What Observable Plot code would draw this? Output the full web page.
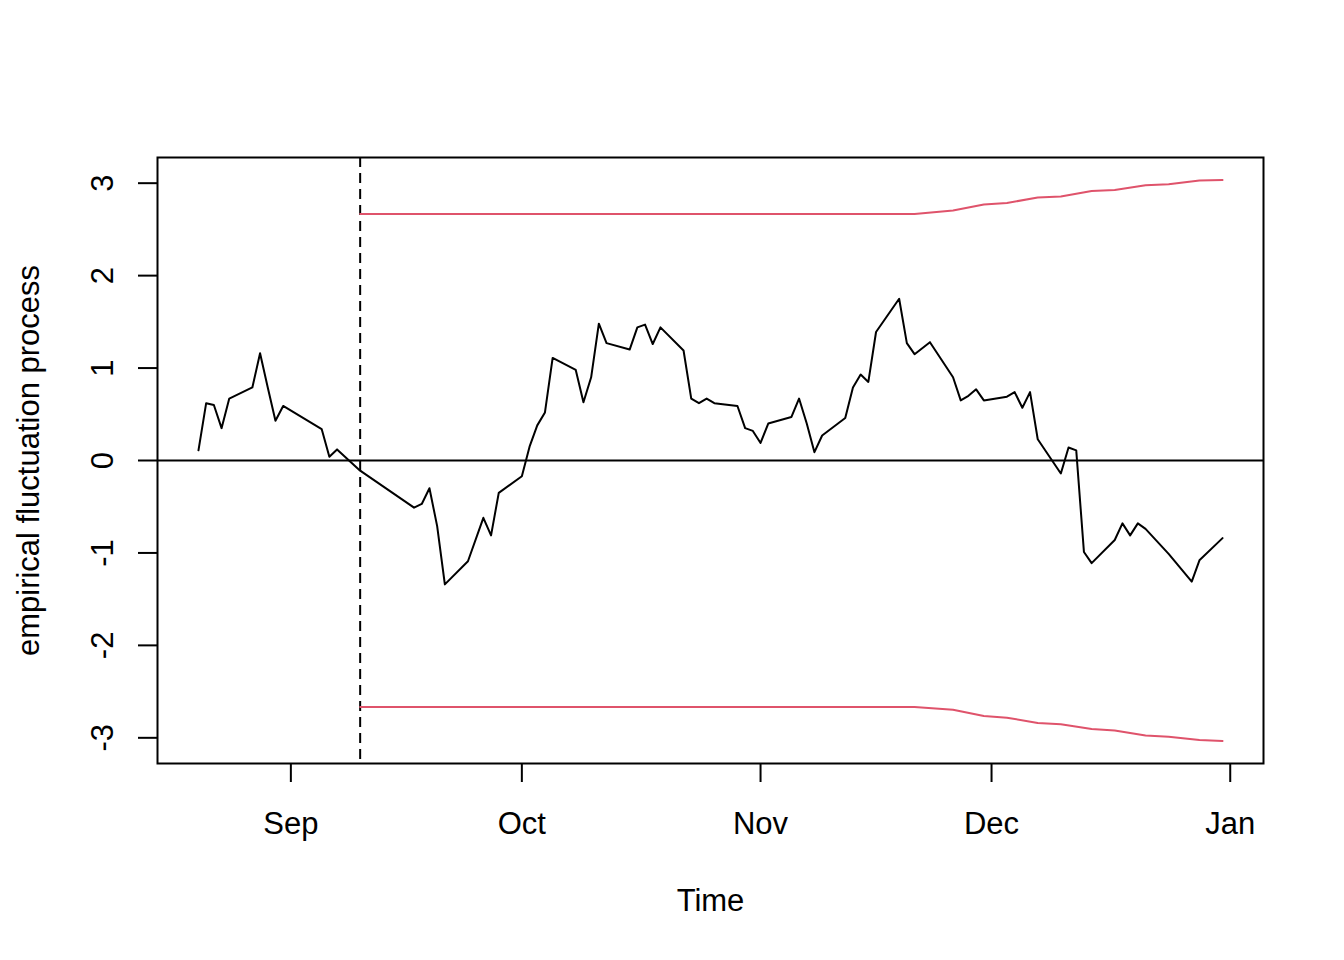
<!DOCTYPE html>
<html>
<head>
<meta charset="utf-8">
<script src="https://cdn.jsdelivr.net/npm/d3@7"></script>
<script src="https://cdn.jsdelivr.net/npm/@observablehq/plot@0.6"></script>
<style>
  html, body { margin: 0; padding: 0; background: #ffffff; }
  svg { display: block; }
</style>
</head>
<body>
<div id="chart"></div>
<script>
// ---- data (2018 trading days) ----
const dates = [
  "2018-08-20","2018-08-21","2018-08-22","2018-08-23","2018-08-24",
  "2018-08-27","2018-08-28","2018-08-29","2018-08-30","2018-08-31",
  "2018-09-05","2018-09-06","2018-09-07","2018-09-10",
  "2018-09-17","2018-09-18","2018-09-19","2018-09-20","2018-09-21",
  "2018-09-24","2018-09-26","2018-09-27","2018-09-28",
  "2018-10-01","2018-10-02","2018-10-03","2018-10-04","2018-10-05",
  "2018-10-08","2018-10-09","2018-10-10","2018-10-11","2018-10-12",
  "2018-10-15","2018-10-16","2018-10-17","2018-10-18","2018-10-19",
  "2018-10-22","2018-10-23","2018-10-24","2018-10-25","2018-10-26",
  "2018-10-29","2018-10-30","2018-10-31","2018-11-01","2018-11-02",
  "2018-11-05","2018-11-06","2018-11-07","2018-11-08","2018-11-09",
  "2018-11-12","2018-11-13","2018-11-14","2018-11-15","2018-11-16",
  "2018-11-19","2018-11-20","2018-11-21","2018-11-23",
  "2018-11-26","2018-11-27","2018-11-28","2018-11-29","2018-11-30",
  "2018-12-03","2018-12-04","2018-12-05","2018-12-06","2018-12-07",
  "2018-12-10","2018-12-11","2018-12-12","2018-12-13","2018-12-14",
  "2018-12-17","2018-12-18","2018-12-19","2018-12-20","2018-12-21",
  "2018-12-24","2018-12-27","2018-12-28","2018-12-31"
];
const values = [
  0.11, 0.62, 0.60, 0.35, 0.67,
  0.79, 1.16, 0.79, 0.43, 0.59,
  0.34, 0.04, 0.12, -0.11,
  -0.51, -0.47, -0.30, -0.71, -1.34,
  -1.09, -0.62, -0.81, -0.35,
  -0.17, 0.15, 0.38, 0.52, 1.11,
  0.98, 0.63, 0.90, 1.48, 1.27,
  1.20, 1.44, 1.47, 1.26, 1.44,
  1.19, 0.67, 0.62, 0.67, 0.62,
  0.59, 0.35, 0.32, 0.19, 0.40,
  0.47, 0.67, 0.40, 0.09, 0.27,
  0.46, 0.79, 0.93, 0.85, 1.39,
  1.75, 1.27, 1.15, 1.28,
  0.90, 0.65, 0.70, 0.77, 0.65,
  0.69, 0.74, 0.57, 0.74, 0.23,
  -0.14, 0.14, 0.11, -0.99, -1.11,
  -0.86, -0.68, -0.81, -0.68, -0.74,
  -1.01, -1.31, -1.08, -0.84
];
const boundDates = [
  "2018-09-10","2018-11-21","2018-11-26","2018-11-30","2018-12-03",
  "2018-12-07","2018-12-10","2018-12-14","2018-12-17","2018-12-21",
  "2018-12-24","2018-12-28","2018-12-31"
];
const upperBound = [2.667, 2.667, 2.704, 2.769, 2.786, 2.844, 2.855, 2.916, 2.927, 2.977, 2.988, 3.028, 3.035];
const lowerBound = [-2.667, -2.667, -2.696, -2.765, -2.782, -2.840, -2.854, -2.905, -2.920, -2.974, -2.988, -3.024, -3.035];
const breakDate = "2018-09-10";
const monthTicks = ["2018-09-01","2018-10-01","2018-11-01","2018-12-01","2019-01-01"];
const monthLabels = ["Sep","Oct","Nov","Dec","Jan"];
const yTicks = [-3, -2, -1, 0, 1, 2, 3];
const xTitle = "Time";
const yTitle = "empirical fluctuation process";

// ---- build tables ----
const parse = s => new Date(s + "T00:00:00Z");
const proc = dates.map((d, i) => ({date: parse(d), value: values[i]}));
const up = boundDates.map((d, i) => ({date: parse(d), value: upperBound[i]}));
const lo = boundDates.map((d, i) => ({date: parse(d), value: lowerBound[i]}));
const tickDates = monthTicks.map(parse);

// R-style 4% padding of the data range
const xExt = d3.extent(proc, d => +d.date);
const xPad = (xExt[1] - xExt[0]) * 0.04;
const xDomain = [new Date(xExt[0] - xPad), new Date(xExt[1] + xPad)];
const allY = values.concat(upperBound, lowerBound);
const yExt = d3.extent(allY);
const yPad = (yExt[1] - yExt[0]) * 0.04;
const yDomain = [yExt[0] - yPad, yExt[1] + yPad];

const red = "#DF536B";
const font = "'Liberation Sans', Arial, Helvetica, sans-serif";

const chart = Plot.plot({
  width: 1344,
  height: 960,
  marginLeft: 157,
  marginRight: 81,
  marginTop: 157,
  marginBottom: 197,
  x: {type: "utc", domain: xDomain, label: null},
  y: {domain: yDomain, label: null},
  style: {fontFamily: font, fontSize: "31px", color: "black", background: "white", overflow: "visible"},
  marks: [
    Plot.ruleY([0], {stroke: "black", strokeWidth: 2}),
    Plot.ruleX([parse(breakDate)], {stroke: "black", strokeWidth: 2, strokeDasharray: "10,6"}),
    Plot.line(up, {x: "date", y: "value", stroke: red, strokeWidth: 2}),
    Plot.line(lo, {x: "date", y: "value", stroke: red, strokeWidth: 2}),
    Plot.line(proc, {x: "date", y: "value", stroke: "black", strokeWidth: 2, strokeLinejoin: "round"}),
    Plot.frame({stroke: "black", strokeWidth: 2}),
    Plot.axisX({
      ticks: tickDates,
      tickSize: 19,
      tickPadding: 29,
      strokeWidth: 2,
      fontSize: 31,
      label: null,
      tickFormat: d => monthLabels[tickDates.findIndex(t => +t === +d)]
    }),
    Plot.axisY({
      ticks: yTicks,
      tickSize: 19,
      tickPadding: 26,
      tickRotate: -90,
      strokeWidth: 2,
      fontSize: 31,
      label: null,
      tickFormat: d => String(d)
    }),
    Plot.text([xTitle], {frameAnchor: "bottom", dy: 147, lineAnchor: "bottom", fontSize: 31, fill: "black"}),
    Plot.text([yTitle], {frameAnchor: "left", dx: -119, rotate: -90, textAnchor: "middle", lineAnchor: "bottom", fontSize: 31, fill: "black"})
  ]
});
document.getElementById("chart").appendChild(chart);
</script>
</body>
</html>
